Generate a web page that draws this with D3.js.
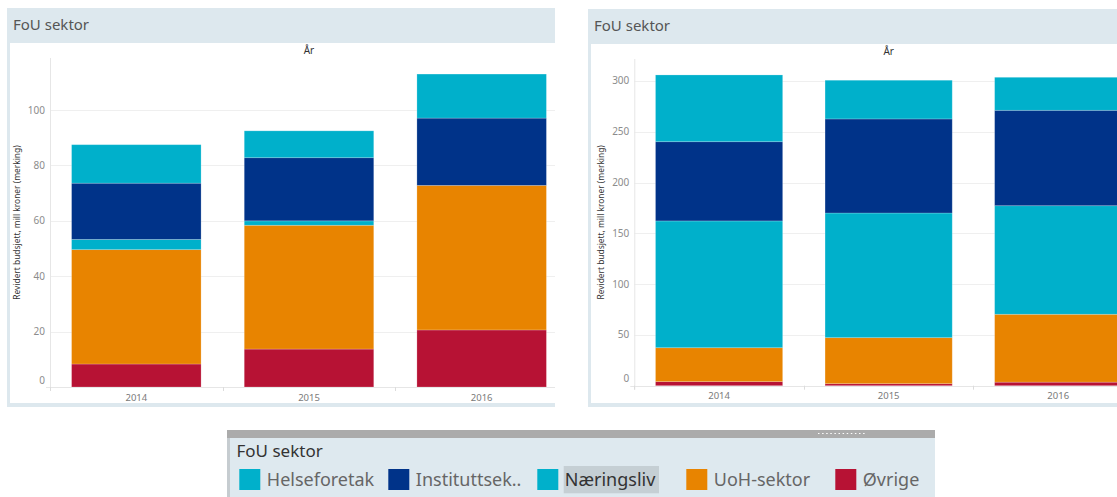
<!DOCTYPE html>
<html>
<head>
<meta charset="utf-8">
<script src="https://cdn.jsdelivr.net/npm/d3@7"></script>
<style>
  body { margin: 0; background: #fff; }
  svg { display: block; font-family: "Noto Sans", "Open Sans", sans-serif; }
</style>
</head>
<body>
<svg id="chart" width="1117" height="497"></svg>
<script>
// ---- data ---------------------------------------------------------------
const years = ["2014", "2015", "2016"];
const sectors = ["Helseforetak", "Instituttsektor", "Næringsliv", "UoH-sektor", "Øvrige"];
const legendLabels = ["Helseforetak", "Instituttsek..", "Næringsliv", "UoH-sektor", "Øvrige"];
const sectorColors = ["#00b0cb", "#003389", "#00b0cb", "#e88400", "#b71234"];

// Left view: revidert budsjett, mill kroner
const leftHelseforetak    = [13.9,  9.7, 15.9];
const leftInstituttsektor = [20.3, 22.8, 24.3];
const leftNaeringsliv     = [ 3.7,  1.6,  0.0];
const leftUoH             = [41.3, 44.7, 52.2];
const leftOvrige          = [ 8.3, 13.7, 20.6];
const leftTicks = [0, 20, 40, 60, 80, 100];

// Right view: revidert budsjett, mill kroner
const rightHelseforetak    = [ 65.7,  38.1,  32.5];
const rightInstituttsektor = [ 78.0,  92.6,  93.9];
const rightNaeringsliv     = [124.8, 122.7, 106.9];
const rightUoH             = [ 33.4,  45.3,  66.8];
const rightOvrige          = [  4.0,   2.0,   3.5];
const rightTicks = [0, 50, 100, 150, 200, 250, 300];

const headerTitle = "FoU sektor";
const columnTitle = "År";
const axisTitle = "Revidert budsjett, mill kroner (merking)";

// ---- helpers ------------------------------------------------------------
function rowsFrom(h, i, n, u, o) {
  return years.map((yr, k) => ({
    year: yr,
    "Helseforetak": h[k], "Instituttsektor": i[k], "Næringsliv": n[k],
    "UoH-sektor": u[k], "Øvrige": o[k]
  }));
}

const colorOf = d3.scaleOrdinal().domain(sectors).range(sectorColors);
// bottom-to-top stacking
const stackKeys = sectors.slice().reverse();
const svg = d3.select("#chart");

function drawPanel(cfg, id) {
  const g = svg.append("g");
  g.append("clipPath").attr("id", id)
    .append("rect").attr("x", cfg.x).attr("y", cfg.y).attr("width", cfg.w).attr("height", cfg.h);
  const root = g.append("g").attr("clip-path", `url(#${id})`);

  // frame + header band
  root.append("rect").attr("x", cfg.x).attr("y", cfg.y).attr("width", cfg.w).attr("height", cfg.h)
    .attr("fill", "#dde8ee");
  root.append("rect").attr("x", cfg.x + 3).attr("y", cfg.y + 35)
    .attr("width", cfg.w - 3).attr("height", cfg.h - 35 - 4).attr("fill", "#fff");
  root.append("text").attr("x", cfg.x + 6).attr("y", cfg.y + 22.3)
    .attr("font-size", 15).attr("fill", "#555").text(headerTitle);

  const x = d3.scaleBand().domain(years).range([cfg.x0, cfg.x1])
    .paddingInner(0.25).paddingOuter(0.125);
  const y = d3.scaleLinear().domain([0, cfg.yMax]).range([cfg.yBottom, cfg.yTop]);

  // column header
  root.append("text").attr("x", (cfg.x0 + cfg.x1) / 2).attr("y", cfg.y + 46)
    .attr("text-anchor", "middle").attr("font-size", 10).attr("fill", "#333").text(columnTitle);

  // gridlines
  root.append("g").selectAll("line").data(cfg.ticks.filter(t => t > 0)).join("line")
    .attr("x1", cfg.x0).attr("x2", cfg.x1)
    .attr("y1", d => Math.round(y(d)) + 0.5).attr("y2", d => Math.round(y(d)) + 0.5)
    .attr("stroke", "#efefef");

  // y axis line and baseline
  root.append("line").attr("x1", cfg.x0 + 0.5).attr("x2", cfg.x0 + 0.5)
    .attr("y1", cfg.yTop).attr("y2", cfg.yBottom + 4).attr("stroke", "#e6e6e6");
  root.append("line").attr("x1", cfg.x0 - 4).attr("x2", cfg.x1)
    .attr("y1", Math.round(cfg.yBottom) + 0.5).attr("y2", Math.round(cfg.yBottom) + 0.5)
    .attr("stroke", "#e6e6e6");
  // band separators under the baseline
  const bounds = years.map(d => x(d) - x.step() * x.paddingOuter()).concat([cfg.x1]);
  root.append("g").selectAll("line").data(bounds).join("line")
    .attr("x1", d => Math.round(d) + 0.5).attr("x2", d => Math.round(d) + 0.5)
    .attr("y1", cfg.yBottom).attr("y2", cfg.yBottom + 4).attr("stroke", "#dcdcdc");

  // tick labels
  root.append("g").selectAll("text").data(cfg.ticks).join("text")
    .attr("x", cfg.x0 - 5)
    .attr("y", d => d === 0 ? y(d) - 7 : y(d))
    .attr("dy", "0.35em").attr("text-anchor", "end")
    .attr("font-size", 10).attr("fill", "#8c8c8c").text(d => d);

  // year labels
  root.append("g").selectAll("text").data(years).join("text")
    .attr("x", d => x(d) + x.bandwidth() / 2).attr("y", cfg.yBottom + 13.5)
    .attr("text-anchor", "middle").attr("font-size", 9.5).attr("fill", "#7a7a7a").text(d => d);

  // axis title
  const cy = (cfg.yTop + cfg.yBottom) / 2;
  root.append("text")
    .attr("transform", `translate(${cfg.x0 - 30},${cy}) rotate(-90)`)
    .attr("text-anchor", "middle").attr("font-size", 8.4).attr("fill", "#333").text(axisTitle);

  // stacked bars
  const series = d3.stack().keys(stackKeys)(cfg.rows);
  root.append("g").selectAll("g").data(series).join("g")
    .attr("fill", s => colorOf(s.key))
    .selectAll("rect").data(s => s).join("rect")
    .attr("x", d => x(d.data.year))
    .attr("width", x.bandwidth())
    .attr("y", d => y(d[1]))
    .attr("height", d => Math.max(0, y(d[0]) - y(d[1])))
    .attr("stroke", "rgba(255,255,255,0.25)").attr("stroke-width", 0.8);
}

drawPanel({
  x: 7, y: 8, w: 548, h: 399,
  x0: 50, x1: 568, yTop: 58, yBottom: 387, yMax: 118.8,
  ticks: leftTicks,
  rows: rowsFrom(leftHelseforetak, leftInstituttsektor, leftNaeringsliv, leftUoH, leftOvrige)
}, "clip-left");

drawPanel({
  x: 588, y: 9, w: 529, h: 398,
  x0: 634.3, x1: 1143, yTop: 59, yBottom: 385.7, yMax: 321.6,
  ticks: rightTicks,
  rows: rowsFrom(rightHelseforetak, rightInstituttsektor, rightNaeringsliv, rightUoH, rightOvrige)
}, "clip-right");

// ---- legend -------------------------------------------------------------
const lg = svg.append("g");
lg.append("rect").attr("x", 227).attr("y", 430).attr("width", 708).attr("height", 67).attr("fill", "#dee9ef");
lg.append("rect").attr("x", 227).attr("y", 430).attr("width", 708).attr("height", 8).attr("fill", "#ababab");
lg.append("rect").attr("x", 227).attr("y", 438).attr("width", 3).attr("height", 59).attr("fill", "#c6ccd0");
lg.append("line").attr("x1", 818).attr("x2", 867).attr("y1", 433.5).attr("y2", 433.5)
  .attr("stroke", "#fff").attr("stroke-width", 1.2).attr("stroke-dasharray", "1.5,2.6");
lg.append("text").attr("x", 236.5).attr("y", 456.5).attr("font-size", 17).attr("fill", "#333").text(headerTitle);

const lx = d3.scaleLinear().domain([0, 1]).range([239.3, 388.3]);
const items = lg.selectAll("g.item").data(legendLabels).join("g").attr("class", "item")
  .attr("transform", (d, i) => `translate(${lx(i)},0)`);
items.filter(d => d === "Næringsliv").append("rect")
  .attr("x", 26.4).attr("y", 466).attr("width", 95.3).attr("height", 27.3).attr("fill", "#c5cfd4");
items.append("rect").attr("x", 0).attr("y", 469).attr("width", 21).attr("height", 21)
  .attr("fill", (d, i) => sectorColors[i]);
items.append("text").attr("x", 27.5).attr("y", 485.7).attr("font-size", 18)
  .attr("fill", d => d === "Næringsliv" ? "#333" : "#666").text(d => d);
</script>
</body>
</html>
